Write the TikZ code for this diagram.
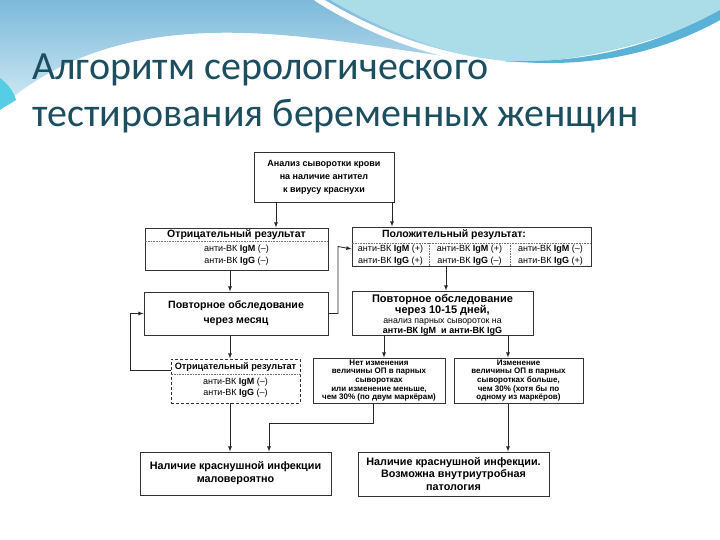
\documentclass[tikz,border=0pt]{standalone}
\usepackage{fontspec}
\setmainfont{Liberation Sans}
\newfontfamily\titlefont{Carlito}

\definecolor{titleteal}{HTML}{1B4F5F}
\definecolor{skyblue}{HTML}{7DB9DA}
\definecolor{paleblue}{HTML}{D2EBF4}
\definecolor{cyanband}{HTML}{ABDDE9}
\definecolor{waveblue}{HTML}{5AB2D6}
\definecolor{edgecyan}{HTML}{55CDE4}

\tikzset{
  box/.style={draw=black!80, line width=0.9pt, fill=white, inner sep=1pt, align=center,
    font=\bfseries\fontsize{9}{13}\selectfont},
  dashbox/.style={box, densely dashed},
  sepline/.style={densely dotted, black!55, line width=0.6pt},
  boxhead/.style={inner sep=0pt, font=\bfseries\fontsize{10.5}{12}\selectfont},
  marker/.style={inner sep=0pt, align=center, font=\fontsize{9}{11.5}\selectfont},
  note/.style={box, font=\bfseries\fontsize{8}{8.7}\selectfont},
  big/.style={box, font=\bfseries\fontsize{10.6}{15}\selectfont},
  line/.style={inner sep=0pt, anchor=base},
  flow/.style={->, black!85, line width=0.8pt},
}

\begin{document}
\begin{tikzpicture}[x=1pt, y=-1pt, >=latex]
    \useasboundingbox (0,0) rectangle (720,540);

    % 1. Фон слайда: волны сверху
    \fill[white] (0,0) rectangle (720,540);
    \shade[top color=skyblue, bottom color=paleblue]
        (0,0) -- (720,0) -- (720,14)
        .. controls (650,44) and (575,64) .. (505,62)
        .. controls (420,58) and (300,26) .. (190,34)
        .. controls (100,40) and (40,72) .. (0,108) -- cycle;
    \fill[cyanband] (330,0) .. controls (385,32) and (450,56) .. (505,62)
        .. controls (585,62) and (660,40) .. (720,14) -- (720,0) -- cycle;
    \draw[white, line width=6pt] (316,-2) .. controls (372,34) and (440,58) .. (505,64);
    \fill[waveblue] (508,61) .. controls (600,64) and (670,38) .. (722,9)
        -- (722,19) .. controls (670,48) and (600,70) .. (508,61) -- cycle;
    \fill[edgecyan] (0,78) .. controls (8,84) and (14,92) .. (16,100)
        .. controls (10,104) and (4,107) .. (0,110) -- cycle;

    % 2. Заголовок
    \node[anchor=base west, inner sep=0pt, text=titleteal,
        font=\titlefont\fontsize{40}{44}\selectfont] (titleA) at (32,80) {Алгоритм серологического};
    \node[anchor=base west, inner sep=0pt, text=titleteal,
        font=\titlefont\fontsize{40}{44}\selectfont] (titleB) at (32,127) {тестирования беременных женщин};

    % 3. Блоки схемы
    \node[box, minimum width=140, minimum height=50] (serum) at (324,177)
        {Анализ сыворотки крови\\на наличие антител\\к вирусу краснухи};

    \node[box, minimum width=183, minimum height=42] (negA) at (236.5,249) {};
    \node[boxhead] (negAhead) at (236.5,234.5) {Отрицательный результат};
    \draw[sepline] (negA.west |- 0,241.5) -- (negA.east |- 0,241.5);
    \node[marker] (negAlist) at (236.5,255)
        {анти-ВК \textbf{IgM} (–)\\анти-ВК \textbf{IgG} (–)};

    \node[box, minimum width=239, minimum height=39] (posA) at (471.5,246.5) {};
    \node[boxhead] (posAhead) at (454,234.5) {Положительный результат:};
    \draw[sepline] (posA.west |- 0,243) -- (posA.east |- 0,243);
    \draw[sepline] (429,243) -- (posA.south -| 429,0);
    \draw[sepline] (510,243) -- (posA.south -| 510,0);
    \node[marker] (posAone) at (390.5,255) {анти-ВК \textbf{IgM} (+)\\анти-ВК \textbf{IgG} (+)};
    \node[marker] (posAtwo) at (469.5,255) {анти-ВК \textbf{IgM} (+)\\анти-ВК \textbf{IgG} (–)};
    \node[marker] (posAthree) at (550.5,255) {анти-ВК \textbf{IgM} (–)\\анти-ВК \textbf{IgG} (+)};

    \node[big, minimum width=184, minimum height=43] (repA) at (236,313.5)
        {Повторное обследование\\через месяц};

    \node[box, minimum width=181, minimum height=44] (repB) at (442.5,313) {};
    \node[line, font=\bfseries\fontsize{11}{12}\selectfont] (repBa) at (442.5,302) {Повторное обследование};
    \node[line, font=\bfseries\fontsize{11}{12}\selectfont] (repBb) at (442.5,313.5) {через 10-15 дней,};
    \node[line, font=\fontsize{8.8}{10}\selectfont] (repBc) at (442.5,323.5) {анализ парных сывороток на};
    \node[line, font=\bfseries\fontsize{9}{10}\selectfont] (repBd) at (442.5,333) {анти-ВК IgM\ \ и анти-ВК IgG};

    \node[dashbox, minimum width=129, minimum height=44] (negB) at (235.5,381) {};
    \node[boxhead, font=\bfseries\fontsize{9.2}{11}\selectfont] (negBhead) at (235.5,367) {Отрицательный результат};
    \draw[sepline] (negB.west |- 0,374) -- (negB.east |- 0,374);
    \node[marker] (negBlist) at (235.5,387.5)
        {анти-ВК \textbf{IgM} (–)\\анти-ВК \textbf{IgG} (–)};

    \node[note, minimum width=132, minimum height=45] (same) at (379,380.5)
        {Нет изменения\\величины ОП в парных\\сыворотках\\или изменение меньше,\\чем 30\% (по двум маркёрам)};
    \node[note, minimum width=129, minimum height=45] (rise) at (518.5,380.5)
        {Изменение\\величины ОП в парных\\сыворотках больше,\\чем 30\% (хотя бы по\\одному из маркёров)};

    \node[box, font=\bfseries\fontsize{10.8}{13}\selectfont, minimum width=191, minimum height=43]
        (unlikely) at (235.5,473.5) {Наличие краснушной инфекции\\маловероятно};
    \node[box, font=\bfseries\fontsize{10.8}{12.5}\selectfont, minimum width=191, minimum height=44]
        (infect) at (453.5,474) {Наличие краснушной инфекции.\\Возможна внутриутробная\\патология};

    % 4. Стрелки
    \coordinate (kA) at (276,0);
    \coordinate (kB) at (392,0);
    \coordinate (kC) at (230,0);
    \coordinate (kD) at (446,0);
    \coordinate (kE) at (338,0);
    \coordinate (kF) at (130,0);
    \coordinate (kG) at (384,0);
    \coordinate (kH) at (508,0);
    \coordinate (kK) at (269,0);
    \coordinate (bend) at (373,423);

    \draw[flow] (serum.south -| kA) -- (negA.north -| kA);
    \draw[flow] (serum.south -| kB) -- (posA.north -| kB);
    \draw[flow] (negA.south -| kC) -- (repA.north -| kC);
    \draw[flow] (posA.south -| kD) -- (repB.north -| kD);
    \draw[flow] (repA.east) -| (kE |- posA.west) -- ([yshift=-2.5pt]posA.west);
    \draw[flow] (repA.south -| kC) -- (negB.north -| kC);
    \draw[flow] ([yshift=11pt]negB.west) -| (kF |- repA.west) -- (repA.west);
    \draw[flow] (repB.south -| kG) -- (same.north -| kG);
    \draw[flow] (repB.south -| kH) -- (rise.north -| kH);
    \draw[flow] (negB.south -| kC) -- (unlikely.north -| kC);
    \draw[flow] (same.south -| bend) -- (bend) -| (unlikely.north -| kK);
    \draw[flow] (rise.south -| kH) -- (infect.north -| kH);
\end{tikzpicture}
\end{document}
